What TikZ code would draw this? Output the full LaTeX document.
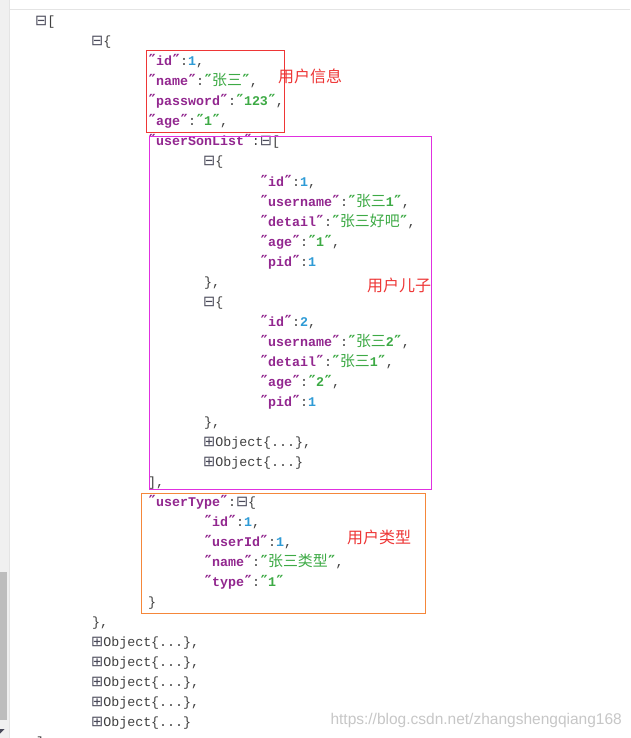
\documentclass[tikz,border=0pt]{standalone}
\usepackage{fontspec}
\setmainfont{Liberation Mono}
\newfontfamily\cjkfont[Scale=1.12]{Noto Sans CJK SC}
\newfontfamily\notefont{Noto Sans CJK SC}
\newfontfamily\iconfont{DejaVu Sans}
\newfontfamily\quotefont[Scale=1.15]{DejaVu Sans Mono}
\newfontfamily\markfont{Liberation Sans}

\definecolor{keyc}{HTML}{92278F}
\definecolor{strc}{HTML}{3DAA45}
\definecolor{numc}{HTML}{2E9BD6}
\definecolor{punc}{HTML}{404040}
\definecolor{iconc}{HTML}{4A4A5A}
\definecolor{infoc}{HTML}{EE3636}
\definecolor{sonc}{HTML}{E030E0}
\definecolor{typec}{HTML}{F5873A}
\definecolor{stripc}{HTML}{F0F0F0}
\definecolor{edgec}{HTML}{E4E4E4}
\definecolor{thumbc}{HTML}{BDBDBD}

\newcommand\jq{\hbox to 8pt{\hss\quotefont\bfseries ″\hss}}
\newcommand\jkey[1]{{\bfseries\color{keyc}\jq#1\jq}}
\newcommand\jstr[1]{{\bfseries\color{strc}\jq#1\jq}}
\newcommand\jnum[1]{{\bfseries\color{numc}#1}}
\newcommand\jcn[1]{{\mdseries\cjkfont #1}}
\newcommand\jminus{{\iconfont\fontsize{14.5}{14}\selectfont\color{iconc}⊟}}
\newcommand\jplus{{\iconfont\fontsize{14.5}{14}\selectfont\color{iconc}⊞}}

\begin{document}
\begin{tikzpicture}[x=1pt, y=-1pt,
  json/.style={anchor=base west, inner sep=0pt, text=punc, font=\fontsize{13.3}{16}\selectfont},
  note/.style={anchor=west, inner sep=0pt, text=infoc, font=\notefont\fontsize{16}{16}\selectfont},
  box/.style={line width=1pt}]
  %fundo
  \fill[white] (0,0) rectangle (630,738);
  \useasboundingbox (0,0) rectangle (630,738);
  \fill[stripc] (0,0) rectangle (9,738);
  \draw[edgec] (9.5,0) -- (9.5,738);
  \draw[edgec] (10,9.5) -- (630,9.5);
  \fill[thumbc] (0,572) rectangle (7,720);
  \fill[iconc] (0,729) -- (4.5,729) -- (0,733.5) -- cycle;

  %raiz
  \node[json] (root) at (35,26) {\jminus[};
  \node[json] (obj) at (91,46) {\jminus\{};

  %usuario
  \node[json] (id) at (148,66) {\jkey{id}:\jnum{1},};
  \node[json] (name) at (148,86) {\jkey{name}:\jstr{\jcn{张三}},};
  \node[json] (pass) at (148,106) {\jkey{password}:\jstr{123},};
  \node[json] (age) at (148,126) {\jkey{age}:\jstr{1},};

  %filhos
  \node[json] (sonlist) at (148,146) {\jkey{userSonList}:\jminus[};
  \node[json] (son1) at (203,166) {\jminus\{};
  \node[json] (son1id) at (260,186) {\jkey{id}:\jnum{1},};
  \node[json] (son1user) at (260,206) {\jkey{username}:\jstr{\jcn{张三}1},};
  \node[json] (son1detail) at (260,226) {\jkey{detail}:\jstr{\jcn{张三好吧}},};
  \node[json] (son1age) at (260,246) {\jkey{age}:\jstr{1},};
  \node[json] (son1pid) at (260,266) {\jkey{pid}:\jnum{1}};
  \node[json] (son1end) at (204,286) {\},};
  \node[json] (son2) at (203,306) {\jminus\{};
  \node[json] (son2id) at (260,326) {\jkey{id}:\jnum{2},};
  \node[json] (son2user) at (260,346) {\jkey{username}:\jstr{\jcn{张三}2},};
  \node[json] (son2detail) at (260,366) {\jkey{detail}:\jstr{\jcn{张三}1},};
  \node[json] (son2age) at (260,386) {\jkey{age}:\jstr{2},};
  \node[json] (son2pid) at (260,406) {\jkey{pid}:\jnum{1}};
  \node[json] (son2end) at (204,426) {\},};
  \node[json] (son3) at (203,446) {\jplus Object\{...\},};
  \node[json] (son4) at (203,466) {\jplus Object\{...\}};
  \node[json] (sonend) at (148,486) {],};

  %tipo
  \node[json] (usertype) at (148,506) {\jkey{userType}:\jminus\{};
  \node[json] (typeid) at (204,526) {\jkey{id}:\jnum{1},};
  \node[json] (typeuser) at (204,546) {\jkey{userId}:\jnum{1},};
  \node[json] (typename) at (204,566) {\jkey{name}:\jstr{\jcn{张三类型}},};
  \node[json] (typetype) at (204,586) {\jkey{type}:\jstr{1}};
  \node[json] (typeend) at (148,606) {\}};

  %resto
  \node[json] (objend) at (92,626) {\},};
  \node[json] (obj2) at (91,646) {\jplus Object\{...\},};
  \node[json] (obj3) at (91,666) {\jplus Object\{...\},};
  \node[json] (obj4) at (91,686) {\jplus Object\{...\},};
  \node[json] (obj5) at (91,706) {\jplus Object\{...\},};
  \node[json] (obj6) at (91,726) {\jplus Object\{...\}};
  \node[json] (rootend) at (36,746) {]};

  %caixas
  \draw[box, infoc] (146,50.5) rectangle (284.5,132.5);
  \draw[box, sonc] (149.5,136.5) rectangle (431.5,489);
  \draw[box, typec] (141.5,493.5) rectangle (425,613.5);
  \node[note] (infonote) at (278,76) {用户信息};
  \node[note] (sonnote) at (367,285) {用户儿子};
  \node[note] (typenote) at (347,537) {用户类型};

  \node[anchor=east, inner sep=0pt, text=black!22, font=\markfont\fontsize{15.5}{16}\selectfont] (mark) at (622,720) {https://blog.csdn.net/zhangshengqiang168};
\end{tikzpicture}
\end{document}
